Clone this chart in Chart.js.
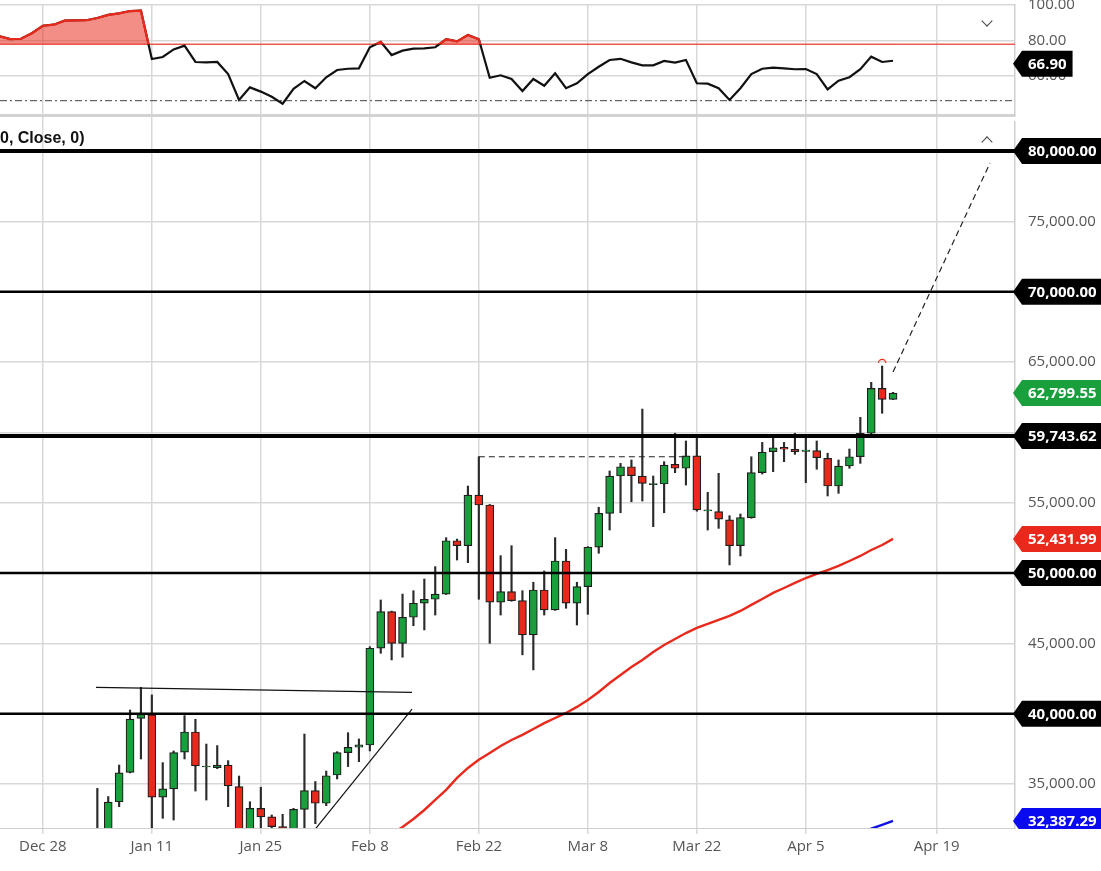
<!DOCTYPE html>
<html>
<head>
<meta charset="utf-8">
<script src="https://cdn.jsdelivr.net/npm/chart.js"></script>
<style>
html, body { margin: 0; padding: 0; background: #fff; width: 1101px; height: 871px; overflow: hidden; position: relative; }
canvas { position: absolute; left: 0; }
#rsi { top: 0; }
#main { top: 121px; }
.study { position: absolute; left: 0; top: 129px; font: bold 16px "Liberation Sans", Arial, sans-serif; color: #111; line-height: 18px; }
.chev { position: absolute; width: 7px; height: 7px; border: 0 solid #444; }
.down { left: 983px; top: 17px; border-right-width: 1.5px; border-bottom-width: 1.5px; transform: rotate(45deg); }
.up { left: 983px; top: 138px; border-left-width: 1.5px; border-top-width: 1.5px; transform: rotate(45deg); }
</style>
</head>
<body>
<canvas id="rsi" width="1101" height="121"></canvas>
<canvas id="main" width="1101" height="750"></canvas>
<div class="study">0, Close, 0)</div>
<div class="chev down"></div>
<div class="chev up"></div>
<script>
// x axis: one unit per trading day, 0 = Dec 28
const tickIdx = [0, 10, 20, 30, 40, 50, 60, 70, 82];
const tickLabels = ['Dec 28', 'Jan 11', 'Jan 25', 'Feb 8', 'Feb 22', 'Mar 8', 'Mar 22', 'Apr 5', 'Apr 19'];
const priceTicks = [35000, 40000, 45000, 50000, 55000, 60000, 65000, 70000, 75000, 80000];
const rsiTicks = [100, 80, 60];

// daily candles, first one at index 5 (Jan 4)
const firstCandle = 5;
const opens = [29600, 31400, 33750, 35840, 39680, 39920, 34070, 34660, 37270, 38710,
  36220, 36170, 36360, 34820, 31500, 33280, 32670, 31980, 31600, 33210,
  34540, 33640, 35650, 37240, 37620, 37780, 44660, 47260, 45010, 46860,
  47860, 48140, 48510, 52300, 51950, 55550, 54840, 47930, 48680, 48040,
  45610, 48800, 47380, 50860, 47860, 49040, 51840, 54250, 56900, 57560,
  56900, 56290, 56330, 57730, 57450, 58330, 54420, 54370, 53780, 51950,
  53940, 57140, 58630, 58940, 58800, 58650, 58700, 58160, 56190, 57610,
  58270, 59940, 63130, 62350];
const highs = [34700, 34120, 36360, 40270, 41880, 41340, 36530, 37360, 39870, 39610,
  37850, 37740, 36670, 35580, 33750, 34780, 32810, 32860, 33280, 38560,
  35190, 35930, 37310, 38660, 38210, 44770, 48090, 47300, 48510, 48750,
  49580, 50460, 52520, 52420, 56190, 58270, 54880, 51240, 51950, 48750,
  49350, 50150, 52520, 51690, 49350, 51880, 54680, 57260, 57800, 58040,
  61660, 56900, 57920, 59940, 59390, 59820, 55740, 57090, 54080, 54200,
  58270, 59290, 59580, 59290, 59940, 59580, 59390, 58520, 58040, 58820,
  61070, 63560, 64720, 62850];
const lows = [28000, 30000, 33400, 35800, 36790, 30500, 32570, 32450, 36790, 34510,
  33870, 36100, 33400, 29500, 30200, 31000, 30300, 30500, 30800, 31700,
  32190, 33470, 35370, 36250, 36600, 37360, 44300, 43830, 44020, 46260,
  45960, 47020, 48480, 50930, 50740, 48140, 45010, 47020, 48000, 44190,
  43120, 47020, 47350, 47500, 46310, 47070, 51410, 53060, 54290, 55070,
  55120, 53300, 54290, 57140, 56260, 54400, 53060, 53180, 50580, 51220,
  53900, 57040, 57210, 57920, 58440, 56430, 57380, 55480, 55670, 57450,
  57800, 59820, 61360, 62330];
const closes = [31400, 33720, 35810, 39630, 39960, 34070, 34660, 37240, 38710, 36300,
  36290, 36360, 34870, 30900, 33280, 32670, 31980, 31700, 33210, 34540,
  33640, 35600, 37240, 37620, 37790, 44660, 47260, 45010, 46860, 47860,
  48140, 48510, 52300, 51950, 55550, 54840, 47930, 48680, 48040, 45610,
  48800, 47380, 50860, 47860, 49040, 51840, 54250, 56900, 57560, 56920,
  56380, 56370, 57680, 57450, 58330, 54490, 54500, 53830, 51950, 53940,
  57140, 58590, 58910, 58800, 58630, 58750, 58200, 56190, 57610, 58270,
  59940, 63130, 62350, 62800];

// moving averages
const ma50Start = 32;
const ma50 = [31450, 31960, 32525, 33165, 33875, 34590, 35440, 36150, 36730, 37220,
  37710, 38140, 38500, 38920, 39340, 39700, 40060, 40490, 40980, 41550,
  42190, 42760, 43330, 43830, 44390, 44890, 45320, 45740, 46100, 46390,
  46670, 46960, 47310, 47740, 48160, 48590, 48940, 49300, 49650, 49940,
  50220, 50510, 50860, 51220, 51640, 52000, 52430];
const ma200Start = 75;
const ma200 = [31560, 31835, 32110, 32387];

// oscillator panel
const rsiStart = -4;
const rsi = [82.5, 80.8, 81.0, 84.1, 88.3, 88.9, 91.2, 91.3, 91.4, 92.7,
  94.4, 95.3, 96.6, 96.8, 69.6, 70.7, 75.0, 77.1, 67.9, 67.7,
  67.9, 61.1, 46.5, 53.6, 51.2, 48.3, 44.4, 52.8, 57.2, 53.1,
  59.3, 63.4, 64.1, 64.3, 76.2, 79.2, 71.8, 74.3, 75.4, 75.6,
  76.2, 80.7, 79.5, 83.1, 80.7, 59.0, 60.4, 58.3, 51.5, 58.3,
  54.5, 61.5, 53.1, 55.9, 61.1, 65.2, 69.0, 69.7, 67.7, 66.0,
  66.0, 68.5, 67.5, 69.0, 55.9, 55.7, 53.1, 46.5, 53.1, 61.1,
  64.1, 64.7, 64.3, 63.8, 63.9, 61.1, 52.5, 57.4, 59.3, 63.8,
  70.9, 67.9, 68.6];
const rsiUpper = 77.9;
const rsiLower = 46.1;
const rsiLast = 66.90;

// drawn levels and studies
const levels = [80000, 70000, 59743.62, 50000, 40000];
const levelWidths = [4, 2.5, 4, 2.5, 2.5];
const tagValues = [80000, 70000, 62799.55, 59743.62, 52431.99, 50000, 40000, 32387.29];
const tagColors = ['#000', '#000', '#19a03c', '#000', '#e8291c', '#000', '#000', '#0a0af0'];
const resistLine = [[4.88, 41880], [33.87, 41530]];
const supportLine = [[22.7, 29600], [33.87, 40340]];
const febHighLine = [[40, 58270], [59.4, 58270]];
const targetLine = [[78.0, 64290], [86.9, 79150]];
const highMark = [77, 65150];

const xMin = -3.93, xMax = 89.19;
const yMin = 31884, yMax = 82132;
const rsiMin = 38.03, rsiMax = 100;

const GREEN = '#19a03c', RED = '#e8291c', GRID = '#d8d8d8';
const fmt = v => v.toLocaleString('en-US', { minimumFractionDigits: 2, maximumFractionDigits: 2 });
const pts = arr => arr.map(p => ({ x: p[0], y: p[1] }));
const series = (start, arr) => arr.map((v, k) => ({ x: start + k, y: v }));

function lineDs(data, color, width, dash, order) {
  return { type: 'line', data: data, borderColor: color, borderWidth: width, borderDash: dash || [],
    pointRadius: 0, fill: false, tension: 0, order: order || 0 };
}

function xAxis(labels) {
  return {
    type: 'linear', min: xMin, max: xMax, offset: false,
    afterBuildTicks: s => { s.ticks = tickIdx.map(v => ({ value: v })); },
    afterFit: s => { s.height = labels ? 43 : 6; s.paddingLeft = 0; s.paddingRight = 0; },
    grid: { color: GRID, lineWidth: 1.5, offset: false, drawTicks: true, tickLength: 6 },
    border: { display: true, color: labels ? '#cfcfcf' : '#d2d2d2', width: labels ? 1 : 3 },
    ticks: { display: labels, autoSkip: false, maxRotation: 0, padding: 4, color: '#555',
      font: { family: 'Open Sans', size: 15 }, callback: (v, i) => tickLabels[i] }
  };
}

function yAxis(min, max, ticks, format) {
  return {
    position: 'right', min: min, max: max,
    afterBuildTicks: s => { s.ticks = ticks.map(v => ({ value: v })); },
    afterFit: s => { s.width = 86; s.paddingTop = 0; s.paddingBottom = 0; },
    grid: { color: GRID, lineWidth: 1.5, drawTicks: false },
    border: { display: true, color: '#cfcfcf', width: 1.5 },
    ticks: { padding: 13, color: '#555', font: { family: 'Open Sans', size: 15 }, callback: format }
  };
}

function drawTag(ctx, x, y, text, color, right) {
  ctx.font = 'bold 15px "Open Sans"';
  const r = right || (x + 15 + ctx.measureText(text).width + 6);
  const h = 13;
  ctx.fillStyle = color;
  ctx.beginPath();
  ctx.moveTo(x, y);
  ctx.lineTo(x + 9, y - h);
  ctx.lineTo(r, y - h);
  ctx.lineTo(r, y + h);
  ctx.lineTo(x + 9, y + h);
  ctx.closePath();
  ctx.fill();
  ctx.fillStyle = '#fff';
  ctx.textAlign = 'left';
  ctx.textBaseline = 'middle';
  ctx.fillText(text, x + 15, y + 1);
}

const priceTags = {
  id: 'priceTags',
  afterDraw(chart) {
    const ctx = chart.ctx, a = chart.chartArea, ys = chart.scales.y;
    ctx.save();
    ctx.beginPath();
    ctx.rect(0, 0, chart.width, a.bottom + 1);
    ctx.clip();
    tagValues.forEach((v, k) => drawTag(ctx, a.right - 2, ys.getPixelForValue(v), fmt(v), tagColors[k], chart.width));
    ctx.restore();
  }
};

const rsiTag = {
  id: 'rsiTag',
  afterDraw(chart) {
    const a = chart.chartArea;
    drawTag(chart.ctx, a.right - 2, chart.scales.y.getPixelForValue(rsiLast), rsiLast.toFixed(2), '#000');
  }
};

// red part of the oscillator: only above the upper band
const clipAbove = {
  id: 'clipAbove',
  beforeDatasetDraw(chart, args) {
    const ds = chart.data.datasets[args.index];
    if (ds.clipAbove === undefined) return;
    const a = chart.chartArea, ctx = chart.ctx;
    const yy = chart.scales.y.getPixelForValue(ds.clipAbove);
    ctx.save();
    ctx.beginPath();
    ctx.rect(a.left, 0, a.right - a.left, yy);
    ctx.clip();
  },
  afterDatasetDraw(chart, args) {
    if (chart.data.datasets[args.index].clipAbove !== undefined) chart.ctx.restore();
  }
};

function build() {
  const idx = opens.map((o, k) => firstCandle + k);
  const bodyColors = opens.map((o, k) => closes[k] >= o ? GREEN : RED);

  const arcImg = document.createElement('canvas');
  arcImg.width = 10; arcImg.height = 6;
  const ac = arcImg.getContext('2d');
  ac.strokeStyle = RED; ac.lineWidth = 1.2;
  ac.beginPath(); ac.arc(5, 6, 3.6, Math.PI, 0); ac.stroke();

  const mainSets = [];
  levels.forEach((v, k) => mainSets.push(lineDs([{ x: xMin, y: v }, { x: xMax, y: v }], '#000', levelWidths[k])));
  mainSets.push(lineDs(pts(resistLine), '#111', 1.2));
  mainSets.push(lineDs(pts(supportLine), '#111', 1.2));
  mainSets.push(lineDs(pts(febHighLine), '#222', 1.2, [6, 4]));
  mainSets.push(lineDs(pts(targetLine), '#222', 1.2, [6, 4]));
  mainSets.push(lineDs(series(ma50Start, ma50), '#e8291c', 2.4));
  mainSets.push(lineDs(series(ma200Start, ma200), '#1010e0', 2.4));
  mainSets.push({ type: 'line', data: [{ x: highMark[0], y: highMark[1] }], showLine: false,
    pointStyle: arcImg, pointRadius: 5, order: 0 });
  mainSets.push({ type: 'bar', data: idx.map((x, k) => ({ x: x, y: [opens[k], closes[k]] })),
    backgroundColor: bodyColors, borderColor: '#1e1e1e', borderWidth: 1.2, borderSkipped: false,
    barThickness: 8, grouped: false, order: 1 });
  mainSets.push({ type: 'bar', data: idx.map((x, k) => ({ x: x, y: [lows[k], highs[k]] })),
    backgroundColor: '#2b2b2b', borderWidth: 0, barThickness: 1.5, grouped: false, order: 2 });

  new Chart(document.getElementById('main'), {
    type: 'bar',
    data: { datasets: mainSets },
    options: {
      responsive: false, animation: false, events: [],
      layout: { padding: 0, autoPadding: false },
      plugins: { legend: { display: false }, tooltip: { enabled: false } },
      scales: { x: xAxis(true), y: yAxis(yMin, yMax, priceTicks, v => fmt(v)) }
    },
    plugins: [priceTags]
  });

  const rsiPts = series(rsiStart, rsi);
  const red = lineDs(rsiPts, '#e8291c', 2.2, null, 0);
  red.fill = { value: rsiUpper, above: 'rgba(232,50,35,0.55)', below: 'rgba(0,0,0,0)' };
  red.clipAbove = rsiUpper;

  new Chart(document.getElementById('rsi'), {
    type: 'line',
    data: { datasets: [
      red,
      lineDs(rsiPts, '#111', 2.2, null, 1),
      lineDs([{ x: xMin, y: rsiUpper }, { x: xMax, y: rsiUpper }], '#ee5a50', 1.5, null, 2),
      lineDs([{ x: xMin, y: rsiLower }, { x: xMax, y: rsiLower }], '#444', 1, [7, 3, 2, 3], 2)
    ] },
    options: {
      responsive: false, animation: false, events: [],
      layout: { padding: { top: 5, left: 0, right: 0, bottom: 0 }, autoPadding: false },
      plugins: { legend: { display: false }, tooltip: { enabled: false } },
      scales: { x: xAxis(false), y: yAxis(rsiMin, rsiMax, rsiTicks, v => v.toFixed(2)) }
    },
    plugins: [clipAbove, rsiTag]
  });
}

Promise.all([
  document.fonts.load('15px "Open Sans"'),
  document.fonts.load('bold 15px "Open Sans"')
]).catch(() => {}).then(build);
</script>
</body>
</html>
